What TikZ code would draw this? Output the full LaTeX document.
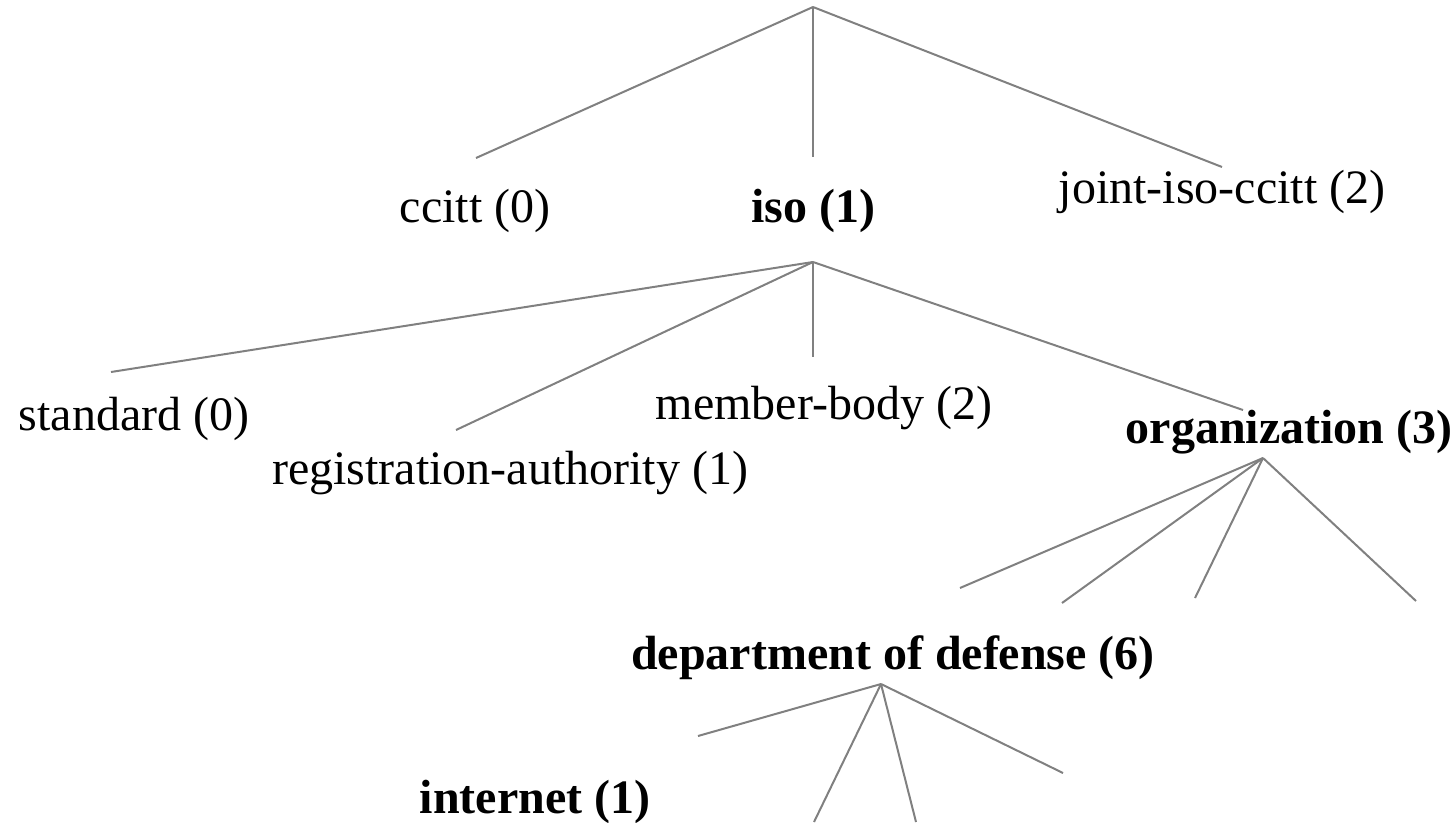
\documentclass[tikz,border=0pt]{standalone}
\usepackage{fontspec}
\setmainfont{Liberation Serif}
\begin{document}
\begin{tikzpicture}[x=1pt,y=-1pt,
  lbl/.style={inner sep=0pt, anchor=base, font=\fontsize{48}{56}\selectfont},
  blbl/.style={lbl, font=\fontsize{48}{56}\selectfont\bfseries},
  edge/.style={draw=black!50, line width=2pt}]
\useasboundingbox (0,0) rectangle (1453,822);
% apexes
\coordinate (r) at (813,7);
\coordinate (isoA) at (813,262);
\coordinate (orgA) at (1263,458);
\coordinate (dodA) at (881,684);
% labels
\node[lbl]  (ccitt) at (475,222) {ccitt (0)};
\node[blbl] (iso)   at (813,222) {iso (1)};
\node[lbl]  (joint) at (1222,203) {joint-iso-ccitt (2)};
\node[lbl]  (std)   at (134,430) {standard (0)};
\node[lbl]  (reg)   at (510,484) {registration-authority (1)};
\node[lbl]  (mem)   at (824,419) {member-body (2)};
\node[blbl] (org)   at (1289,443) {organization (3)};
\node[blbl] (dod)   at (893,669) {department of defense (6)};
\node[blbl] (inet)  at (535,813) {internet (1)};
% free ends
\coordinate (e1) at (476,158);
\coordinate (e2) at (813,157);
\coordinate (e3) at (1222,167);
\coordinate (f1) at (111,372);
\coordinate (f2) at (456,430);
\coordinate (f3) at (813,357);
\coordinate (f4) at (1243,410);
\coordinate (g1) at (960,588);
\coordinate (g2) at (1062,603);
\coordinate (g3) at (1195,598);
\coordinate (g4) at (1416,601);
\coordinate (h1) at (698,736);
\coordinate (h2) at (814,822);
\coordinate (h3) at (916,822);
\coordinate (h4) at (1063,773);
% connectors
\foreach \t in {e1,e2,e3} \draw[edge] (r) -- (\t);
\foreach \t in {f1,f2,f3,f4} \draw[edge] (isoA) -- (\t);
\foreach \t in {g1,g2,g3,g4} \draw[edge] (orgA) -- (\t);
\foreach \t in {h1,h2,h3,h4} \draw[edge] (dodA) -- (\t);
\end{tikzpicture}
\end{document}
